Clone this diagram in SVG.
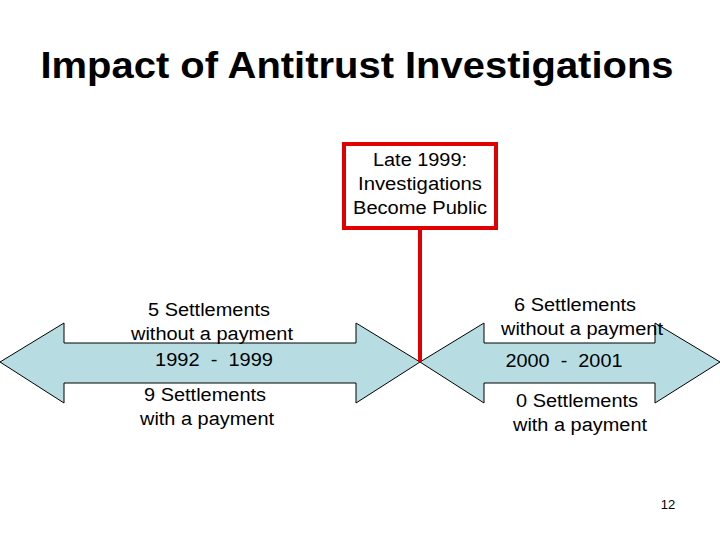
<svg xmlns="http://www.w3.org/2000/svg" width="720" height="540" viewBox="0 0 720 540">
<style>
text{font-family:"Liberation Sans",Arial,sans-serif;font-size:18px;fill:#000;text-anchor:middle;white-space:pre}
.arr{fill:#b7dde2;stroke:#000;stroke-width:1}
</style>
<rect width="720" height="540" fill="#fff"/>
<text x="357" y="78" style="font-size:37px;font-weight:bold" textLength="633" lengthAdjust="spacingAndGlyphs">Impact of Antitrust Investigations</text>
<g id="period1">
<polygon class="arr" points="0,362 64,323 64,343 356,343 356,323 420,362 356,403 356,383 64,383 64,403"/>
<text x="209" y="316" textLength="122" lengthAdjust="spacingAndGlyphs">5 Settlements</text>
<text x="212" y="340" textLength="162" lengthAdjust="spacingAndGlyphs">without a payment</text>
<text x="214" y="366" xml:space="preserve" textLength="118" lengthAdjust="spacingAndGlyphs">1992  -  1999</text>
<text x="205" y="401" textLength="122" lengthAdjust="spacingAndGlyphs">9 Settlements</text>
<text x="207" y="425" textLength="134" lengthAdjust="spacingAndGlyphs">with a payment</text>
</g>
<g id="period2">
<polygon class="arr" points="420,362 484,323 484,343 655,343 655,323 720,362 655,403 655,383 484,383 484,403"/>
<text x="575" y="311" textLength="122" lengthAdjust="spacingAndGlyphs">6 Settlements</text>
<text x="582" y="335" textLength="162" lengthAdjust="spacingAndGlyphs">without a payment</text>
<text x="564" y="367" xml:space="preserve" textLength="117" lengthAdjust="spacingAndGlyphs">2000  -  2001</text>
<text x="577" y="407" textLength="122" lengthAdjust="spacingAndGlyphs">0 Settlements</text>
<text x="580" y="431" textLength="134" lengthAdjust="spacingAndGlyphs">with a payment</text>
</g>
<g id="connectors">
<line x1="420" y1="228" x2="420" y2="362" stroke="#e00000" stroke-width="4"/>
</g>
<g id="event">
<rect x="344" y="144" width="152" height="84" fill="#fff" stroke="#e00000" stroke-width="4"/>
<text x="420" y="166" textLength="94" lengthAdjust="spacingAndGlyphs">Late 1999:</text>
<text x="420" y="190" textLength="124" lengthAdjust="spacingAndGlyphs">Investigations</text>
<text x="420" y="214" textLength="134" lengthAdjust="spacingAndGlyphs">Become Public</text>
</g>
<text x="668" y="509" style="font-size:13px">12</text>
</svg>
